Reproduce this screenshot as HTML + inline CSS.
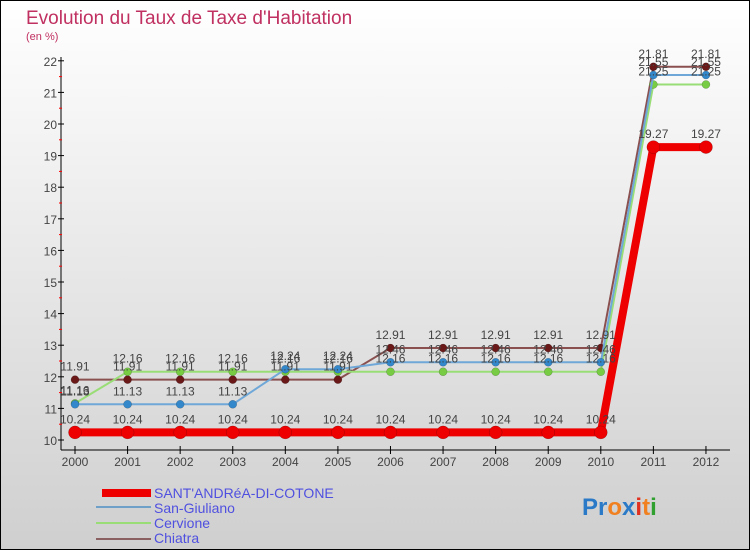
<!DOCTYPE html>
<html><head><meta charset="utf-8"><style>
body{margin:0}
#c{width:750px;height:550px;position:relative;overflow:hidden;box-sizing:border-box;border:1px solid #000;background:linear-gradient(#ffffff,#cfcfcf);font-family:"Liberation Sans",sans-serif}
</style></head><body>
<div id="c">
<svg id="s" width="750" height="550" style="position:absolute;left:-1px;top:-1px">
<text x="26" y="24" font-size="19" fill="#c03060">Evolution du Taux de Taxe d'Habitation</text>
<text x="26" y="40" font-size="11" fill="#c03060">(en %)</text>
<g id="axes"></g><g id="series"></g><g id="labels"></g>
<g>
<rect x="102" y="489" width="49" height="8" fill="#e00"/>
<text x="154" y="498" font-size="14" fill="#5050e0">SANT'ANDRéA-DI-COTONE</text>
<rect x="96" y="506" width="55" height="2" fill="#6fa0c8"/>
<text x="154" y="513" font-size="14" fill="#5050e0">San-Giuliano</text>
<rect x="96" y="522" width="55" height="2" fill="#99dd77"/>
<text x="154" y="528" font-size="14" fill="#5050e0">Cervione</text>
<rect x="96" y="538" width="55" height="2" fill="#8a6060"/>
<text x="154" y="543" font-size="14" fill="#5050e0">Chiatra</text>
</g>
<text x="582" y="515" font-size="24" font-weight="bold"><tspan fill="#2a7ac8">Pr</tspan><tspan fill="#f08020">o</tspan><tspan fill="#2a7ac8">x</tspan><tspan fill="#e03020">i</tspan><tspan fill="#f08020">t</tspan><tspan fill="#30a030">i</tspan></text>
</svg>
</div>
<script>
const years=[2000,2001,2002,2003,2004,2005,2006,2007,2008,2009,2010,2011,2012];
const yTicks=[10,11,12,13,14,15,16,17,18,19,20,21,22];
const santAndrea=[10.24,10.24,10.24,10.24,10.24,10.24,10.24,10.24,10.24,10.24,10.24,19.27,19.27];
const sanGiuliano=[11.13,11.13,11.13,11.13,12.24,12.24,12.46,12.46,12.46,12.46,12.46,21.55,21.55];
const cervione=[11.16,12.16,12.16,12.16,12.16,12.16,12.16,12.16,12.16,12.16,12.16,21.25,21.25];
const chiatra=[11.91,11.91,11.91,11.91,11.91,11.91,12.91,12.91,12.91,12.91,12.91,21.81,21.81];
const NS="http://www.w3.org/2000/svg";
const xS=i=>75+i*52.58;
const yS=v=>440-(v-10)*31.6;
function mk(t,a,p){const e=document.createElementNS(NS,t);for(const k in a)e.setAttribute(k,a[k]);p.appendChild(e);return e;}
const ax=document.getElementById('axes');
let l=mk('line',{x1:61,y1:57,x2:61,y2:450,stroke:'#000'},ax);


l=mk('line',{x1:61,y1:450,x2:730,y2:450,stroke:'#000'},ax);


yTicks.forEach(v=>{
 mk('line',{x1:58,y1:yS(v),x2:64,y2:yS(v),stroke:'#000'},ax);
 if(v<22)mk('line',{x1:59,y1:yS(v+0.5),x2:62,y2:yS(v+0.5),stroke:'#f00'},ax);
 const t=mk('text',{x:57,y:yS(v)+5,'font-size':12,fill:'#444','text-anchor':'end'},ax);t.textContent=v;
 
 
});
years.forEach((y,i)=>{
 mk('line',{x1:xS(i),y1:446,x2:xS(i),y2:454,stroke:'#000'},ax);
 const t=mk('text',{x:xS(i),y:466,'font-size':12,fill:'#444','text-anchor':'middle'},ax);t.textContent=y;
 
 
});
const sg=document.getElementById('series'),lg=document.getElementById('labels');
function draw(data,color,dot,w,r,name){
 const g=mk('g',{},sg);
 
 
 mk('polyline',{points:data.map((v,i)=>xS(i)+','+yS(v)).join(' '),fill:'none',stroke:color,'stroke-width':w},g);
 data.forEach((v,i)=>{
  const c=mk('circle',{cx:xS(i),cy:yS(v),r:r,fill:dot,stroke:'rgba(0,0,0,0.3)','stroke-width':0.5},g);
  
  
  const t=mk('text',{x:xS(i),y:yS(v)-9,'font-size':12,fill:'#444','text-anchor':'middle'},lg);t.textContent=v;
  
  
 });
}
draw(chiatra,'#8a5050','#6a1818',2,4,'chiatra');
draw(cervione,'#99dd77','#77cc44',2,4,'cervione');
draw(sanGiuliano,'#6fa8d8','#3388cc',2,4,'san-giuliano');
draw(santAndrea,'#ee0000','#ee0000',8,6.5,'sant-andrea');
</script>
</body></html>
